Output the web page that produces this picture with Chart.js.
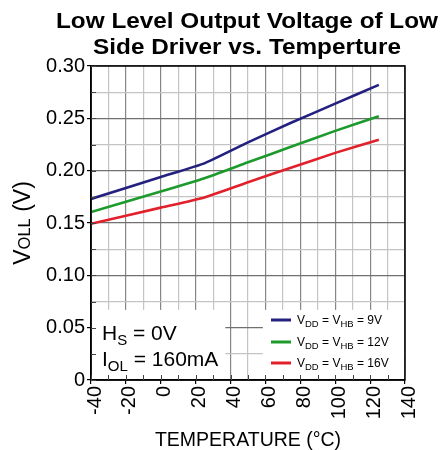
<!DOCTYPE html>
<html>
<head>
<meta charset="utf-8">
<script src="https://cdn.jsdelivr.net/npm/chart.js@4/dist/chart.umd.min.js"></script>
<style>
html,body{margin:0;padding:0;background:#fff;}
canvas{display:block;}
</style>
</head>
<body>
<canvas id="c" width="440" height="450"></canvas>
<script>
// ---- data ----
const temps   = [-40, 0, 25, 50, 75, 100, 125];
const vdd9V   = [0.173, 0.194, 0.207, 0.227, 0.246, 0.264, 0.282];
const vdd12V  = [0.1605, 0.180, 0.1927, 0.208, 0.223, 0.238, 0.252];
const vdd16V  = [0.1493, 0.1647, 0.1744, 0.189, 0.203, 0.217, 0.2295];
const xTickValues = [-40, -20, 0, 20, 40, 60, 80, 100, 120, 140];
const xTickLabels = ['-40', '-20', '0', '20', '40', '60', '80', '100', '120', '140'];
const yTickValues = [0, 0.05, 0.10, 0.15, 0.20, 0.25, 0.30];
const yTickLabels = ['0', '0.05', '0.10', '0.15', '0.20', '0.25', '0.30'];
const seriesNames = ['VDD = VHB = 9V', 'VDD = VHB = 12V', 'VDD = VHB = 16V'];
const legendParts = [
  [['V',0],['DD',1],[' = V',0],['HB',1],[' = 9V',0]],
  [['V',0],['DD',1],[' = V',0],['HB',1],[' = 12V',0]],
  [['V',0],['DD',1],[' = V',0],['HB',1],[' = 16V',0]]
];
const colors = ['#23207f', '#1d9a2c', '#e2202b'];

const FONT = '"Liberation Sans", Arial, sans-serif';

function labelFor(values, labels, v, eps) {
  for (let i = 0; i < values.length; i++) {
    if (Math.abs(values[i] - v) < eps) return labels[i];
  }
  return '';
}

function drawParts(ctx, x, y, parts, big, small, dy) {
  let cx = x;
  for (const [t, sub] of parts) {
    ctx.font = (sub ? small : big) + 'px ' + FONT;
    ctx.fillText(t, cx, y + (sub ? dy : 0));
    cx += ctx.measureText(t).width;
  }
  return cx - x;
}
function measureParts(ctx, parts, big, small) {
  let w = 0;
  for (const [t, sub] of parts) {
    ctx.font = (sub ? small : big) + 'px ' + FONT;
    w += ctx.measureText(t).width;
  }
  return w;
}

const isMajorX = (v) => Math.round(v) % 20 === 0;
const isMajorY = (v) => Math.round(v * 1000) % 50 === 0;

const boxesPlugin = {
  id: 'boxes',
  beforeDatasetsDraw(chart) {
    const ctx = chart.ctx, xs = chart.scales.x, ys = chart.scales.y, ca = chart.chartArea;
    const top = ys.getPixelForValue(0.067);
    ctx.save();
    ctx.fillStyle = '#fff';
    ctx.fillRect(ca.left + 1, top, xs.getPixelForValue(37) - ca.left - 1, ca.bottom - top - 1);
    const lx = xs.getPixelForValue(58.5);
    ctx.fillRect(lx, top, ca.right - lx - 1, ca.bottom - top - 1);
    ctx.restore();
  },
  afterDraw(chart) {
    const ctx = chart.ctx, xs = chart.scales.x, ys = chart.scales.y, ca = chart.chartArea;
    const cx = (ca.left + ca.right) / 2;
    ctx.save();
    ctx.fillStyle = '#000';
    ctx.textAlign = 'center';
    ctx.textBaseline = 'alphabetic';
    ctx.font = 'bold 22.5px ' + FONT;
    const t1 = 'Low Level Output Voltage of Low';
    const sx = 382 / ctx.measureText(t1).width;
    ctx.save();
    ctx.translate(cx - 1, 0);
    ctx.scale(sx, 1);
    ctx.fillText(t1, 0, 28);
    ctx.fillText('Side Driver vs. Temperture', 0, 54);
    ctx.restore();
    ctx.font = '19.5px ' + FONT;
    ctx.fillText('TEMPERATURE (\u00B0C)', cx, 446);
    ctx.strokeStyle = '#000';
    ctx.lineWidth = 1.5;
    ctx.strokeRect(ca.left, ca.top, ca.right - ca.left, ca.bottom - ca.top);
    ctx.lineWidth = 1;
    ctx.strokeStyle = '#444';
    ctx.beginPath();
    for (let v = -40; v <= 140; v += 10) {
      const px = Math.round(xs.getPixelForValue(v)) + 0.5;
      ctx.moveTo(px, ca.bottom); ctx.lineTo(px, ca.bottom - 5);
    }
    for (let k = 0; k <= 12; k++) {
      const py = Math.round(ys.getPixelForValue(k * 0.025)) + 0.5;
      ctx.moveTo(ca.left, py); ctx.lineTo(ca.left + 5, py);
    }
    ctx.stroke();
    ctx.textAlign = 'left';
    const yparts = [['V',0],['OLL',1],[' (V)',0]];
    ctx.translate(30, (ca.top + ca.bottom) / 2);
    ctx.rotate(-Math.PI / 2);
    const w = measureParts(ctx, yparts, 23, 16.5);
    drawParts(ctx, -w / 2, 0, yparts, 23, 16.5, 0);
    ctx.restore();

    ctx.save();
    ctx.fillStyle = '#000';
    ctx.textAlign = 'left';
    drawParts(ctx, 102, 340, [['H',0],['S',1],[' = 0V',0]], 21, 15, 5);
    drawParts(ctx, 102, 366, [['I',0],['OL',1],[' = 160mA',0]], 21, 15, 5);
    const rows = [320, 342, 363];
    for (let i = 0; i < 3; i++) {
      ctx.strokeStyle = colors[i];
      ctx.lineWidth = 3;
      ctx.beginPath();
      ctx.moveTo(271, rows[i]); ctx.lineTo(291, rows[i]);
      ctx.stroke();
      drawParts(ctx, 297, rows[i] + 4, legendParts[i], 12, 9.5, 3);
    }
    ctx.restore();
  }
};

const mk = (vals) => temps.map((t, i) => ({ x: t, y: vals[i] }));

new Chart(document.getElementById('c'), {
  type: 'line',
  data: {
    datasets: [vdd9V, vdd12V, vdd16V].map((v, i) => ({
      label: seriesNames[i],
      data: mk(v),
      borderColor: colors[i],
      backgroundColor: colors[i],
      borderWidth: 2.6,
      pointRadius: 0,
      fill: false,
      tension: 0.15
    }))
  },
  options: {
    responsive: false,
    animation: false,
    layout: { padding: { left: 0, top: 66, right: 35, bottom: 0 } },
    plugins: { legend: { display: false }, tooltip: { enabled: false }, title: { display: false } },
    scales: {
      x: {
        type: 'linear', min: -40, max: 140,
        afterFit(s) { s.height = 70; },
        ticks: {
          stepSize: 10, autoSkip: false, minRotation: 90, maxRotation: 90,
          padding: 2, labelOffset: 4, color: '#000', font: { family: FONT, size: 20 },
          callback: (v) => labelFor(xTickValues, xTickLabels, v, 0.5)
        },
        grid: {
          color: (c) => (isMajorX(c.tick.value) ? '#858585' : '#c4c4c4'),
          lineWidth: 1.2,
          tickLength: 4,
          tickColor: (c) => (isMajorX(c.tick.value) ? '#000' : 'rgba(0,0,0,0)')
        },
        border: { color: '#000', width: 1.5 }
      },
      y: {
        type: 'linear', min: 0, max: 0.3,
        afterFit(s) { s.width = 91; },
        ticks: {
          stepSize: 0.025, autoSkip: false, padding: 2, color: '#000',
          font: { family: FONT, size: 20 },
          callback: (v) => labelFor(yTickValues, yTickLabels, v, 0.001)
        },
        grid: {
          color: (c) => (isMajorY(c.tick.value) ? '#707070' : '#c4c4c4'),
          lineWidth: 1.2,
          tickLength: 4,
          tickColor: (c) => (isMajorY(c.tick.value) ? '#000' : 'rgba(0,0,0,0)')
        },
        border: { color: '#000', width: 1.5 }
      }
    }
  },
  plugins: [boxesPlugin]
});
</script>
</body>
</html>
